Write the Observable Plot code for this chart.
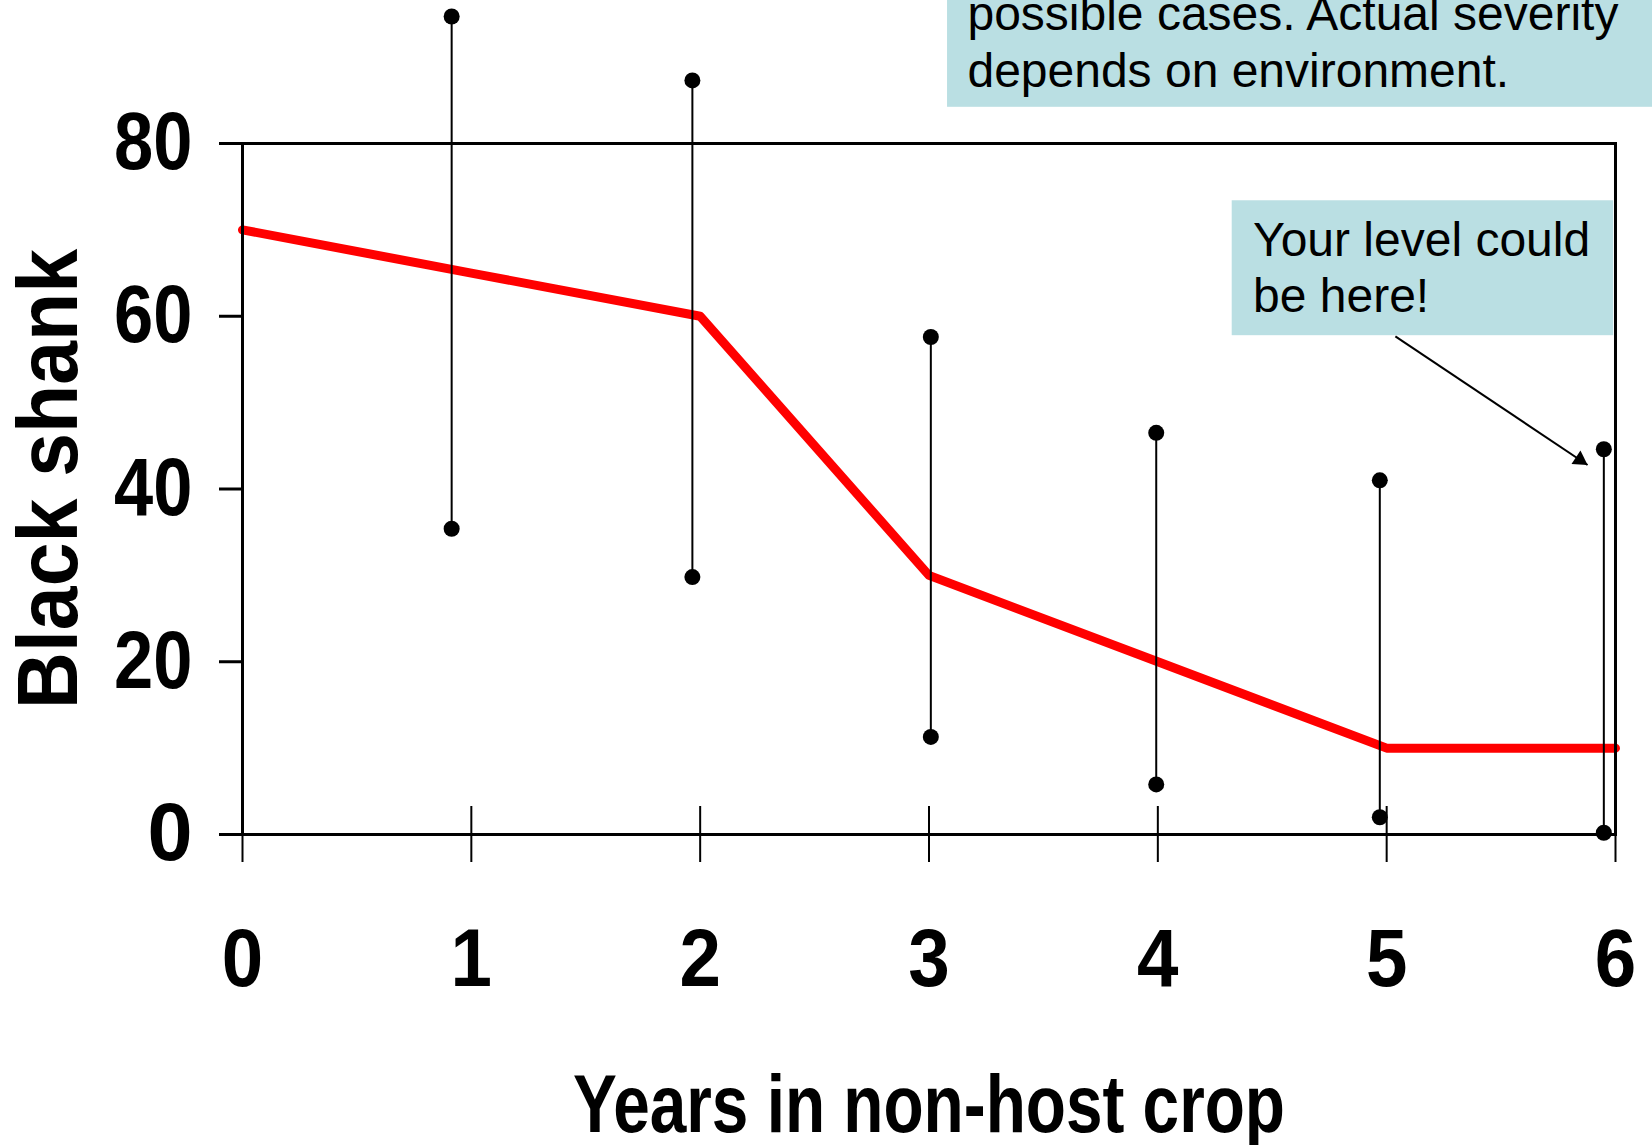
<!DOCTYPE html>
<html>
<head>
<meta charset="utf-8">
<script src="https://cdn.jsdelivr.net/npm/d3@7"></script>
<script src="https://cdn.jsdelivr.net/npm/@observablehq/plot@0.6"></script>
<style>
  html, body { margin: 0; padding: 0; background: #fff; }
  #chart { width: 1652px; height: 1145px; overflow: hidden; }
</style>
</head>
<body>
<div id="chart"></div>
<script>
// ---- data ----
const years = [0, 1, 2, 3, 4, 5, 6];
const severity = [70, 65, 60, 30, 20, 10, 10];
const rangeYears = [0.914, 1.966, 3.008, 3.993, 4.97, 5.949];
const rangeLow = [35.4, 29.8, 11.3, 5.8, 2.0, 0.2];
const rangeHigh = [94.7, 87.3, 57.6, 46.5, 41.0, 44.6];
const yTicks = [0, 20, 40, 60, 80];
const xTicks = [0, 1, 2, 3, 4, 5, 6];
const xTitle = "Years in non-host crop";
const yTitle = "Black shank";
const noteText = ["possible cases. Actual severity", "depends on environment.", "Your level could", "be here!"];
const noteTextX = [3.168, 3.168, 4.416, 4.416];
const noteTextY = [93.1, 86.55, 67.0, 60.45];
const noteBoxX1 = [3.081, 4.325];
const noteBoxX2 = [6.4, 5.992];
const noteBoxY1 = [84.19, 57.75];
const noteBoxY2 = [100, 73.37];
const arrowFrom = [5.038, 57.67];
const arrowTo = [5.878, 42.78];

// ---- tables built from the arrays ----
const lineData = years.map((x, i) => ({x, y: severity[i]}));
const rangeData = rangeYears.map((x, i) => ({x, lo: rangeLow[i], hi: rangeHigh[i]}));
const dotData = rangeData.flatMap(d => [{x: d.x, y: d.lo}, {x: d.x, y: d.hi}]);
const boxData = noteBoxX1.map((x1, i) => ({x1, x2: noteBoxX2[i], y1: noteBoxY1[i], y2: noteBoxY2[i]}));
const noteData = noteText.map((t, i) => ({text: t, x: noteTextX[i], y: noteTextY[i]}));
const arrowData = [{x1: arrowFrom[0], y1: arrowFrom[1], x2: arrowTo[0], y2: arrowTo[1]}];

const FONT = '"Liberation Sans", Arial, Helvetica, sans-serif';
const headLen = 9.3, headAngle = 33.77;

const svg = Plot.plot({
  width: 1652,
  height: 1145,
  marginLeft: 242,
  marginRight: 37,
  marginTop: 143,
  marginBottom: 311,
  x: {domain: [0, 6]},
  y: {domain: [0, 80]},
  style: {fontFamily: FONT, background: "white", color: "black", overflow: "hidden"},
  marks: [
    Plot.rect(boxData, {x1: "x1", x2: "x2", y1: "y1", y2: "y2", fill: "#BADFE3"}),
    Plot.text(noteData, {x: "x", y: "y", text: "text", textAnchor: "start", lineAnchor: "bottom",
      fontSize: 48, fill: "black"}),
    Plot.line(lineData, {x: "x", y: "y", stroke: "#FF0000", strokeWidth: 9,
      strokeLinecap: "round", strokeLinejoin: "round"}),
    Plot.ruleX(rangeData, {x: "x", y1: "lo", y2: "hi", stroke: "black", strokeWidth: 2}),
    Plot.dot(dotData, {x: "x", y: "y", r: 8, fill: "black", stroke: "none"}),
    Plot.frame({stroke: "black", strokeWidth: 3}),
    Plot.axisY({ticks: yTicks, tickSize: 23, tickPadding: 27, fontSize: 81, fontWeight: "bold",
      tickFormat: d3.format("d"), label: null, strokeWidth: 3}),
    Plot.axisX({ticks: xTicks, tickSize: 28, tickPadding: 66, fontSize: 81, fontWeight: "bold",
      tickFormat: d3.format("d"), label: null, strokeWidth: 2}),
    Plot.ruleX(xTicks, {x: d => d, y1: 0, y2: 0, insetTop: -28, stroke: "black", strokeWidth: 2}),
    Plot.link(arrowData, {x1: "x1", y1: "y1", x2: "x2", y2: "y2", stroke: "black", strokeWidth: 2}),
    Plot.dot(arrowData, {x: "x2", y: "y2", symbol: "triangle", r: 6, fill: "black", stroke: "none",
      rotate: 90 + headAngle,
      dx: -headLen * Math.cos(headAngle * Math.PI / 180),
      dy: -headLen * Math.sin(headAngle * Math.PI / 180)}),
    Plot.text([yTitle], {frameAnchor: "left", rotate: -90, dx: -227, dy: -10, lineAnchor: "top",
      textAnchor: "middle", fontSize: 86, fontWeight: "bold", fill: "black"}),
    Plot.text([xTitle], {frameAnchor: "bottom", dy: 297, lineAnchor: "bottom",
      textAnchor: "middle", fontSize: 82, fontWeight: "bold", fill: "black",
      fontFamily: '"Liberation Sans Narrow", "Liberation Sans", Arial, sans-serif'})
  ]
});

document.getElementById("chart").append(svg);

// fit the bold titles / labels to the reference widths
svg.querySelectorAll("text").forEach(t => {
  const s = t.textContent;
  if (s === xTitle) {
    t.setAttribute("textLength", 712);
    t.setAttribute("lengthAdjust", "spacingAndGlyphs");
  } else if (s === yTitle) {
    t.setAttribute("textLength", 460);
    t.setAttribute("lengthAdjust", "spacingAndGlyphs");
  }
});
svg.querySelectorAll('g[aria-label="y-axis tick label"] text').forEach(t => {
  if (t.textContent.length > 1) {
    const L = t.getComputedTextLength();
    t.setAttribute("textLength", L * 0.87);
    t.setAttribute("lengthAdjust", "spacingAndGlyphs");
  }
});
svg.querySelectorAll('g[aria-label="x-axis tick label"] text').forEach(t => {
  const L = t.getComputedTextLength();
  t.setAttribute("textLength", L * 0.92);
  t.setAttribute("lengthAdjust", "spacingAndGlyphs");
});
</script>
</body>
</html>
